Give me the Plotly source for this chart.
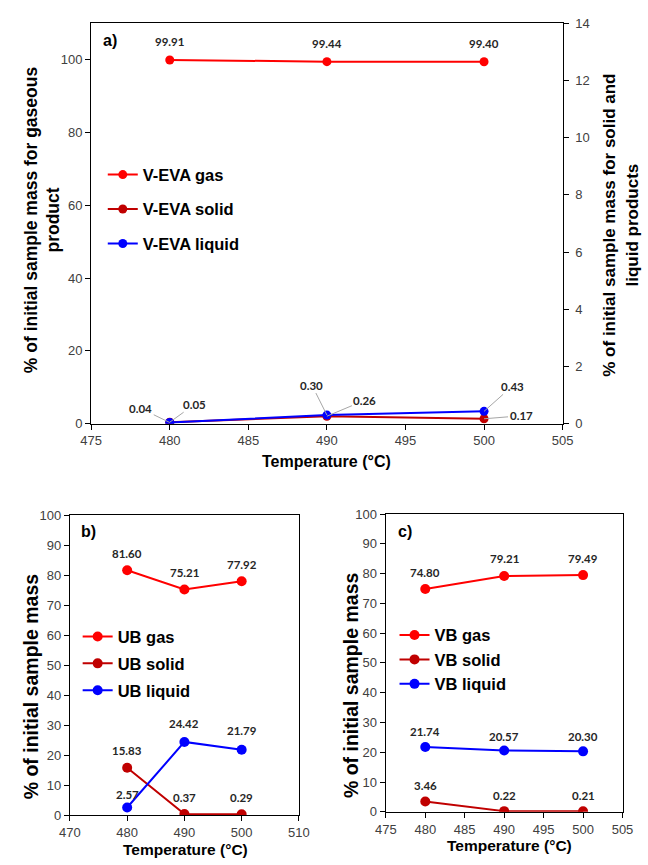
import plotly.graph_objects as go

# ---------------- data ----------------
temps = [480, 490, 500]

veva_gas = [99.91, 99.44, 99.40]
veva_solid = [0.05, 0.26, 0.17]
veva_liquid = [0.04, 0.30, 0.43]

ub_gas = [81.60, 75.21, 77.92]
ub_solid = [15.83, 0.37, 0.29]
ub_liquid = [2.57, 24.42, 21.79]

vb_gas = [74.80, 79.21, 79.49]
vb_solid = [3.46, 0.22, 0.21]
vb_liquid = [21.74, 20.57, 20.30]

# ---------------- style ----------------
RED = "#FF0000"
DARKRED = "#C00000"
BLUE = "#0000FF"
AX_FONT = "Arial, Liberation Sans, sans-serif"
LBL_FONT = "Lato, Carlito, Open Sans, sans-serif"
W, H = 648, 865


def px(xp):
    return xp / W


def py(yp):
    return 1 - yp / H


fig = go.Figure()


def add_series(x, y, name, color, xa, ya, legend, msize):
    fig.add_trace(go.Scatter(
        x=x, y=y, name=name, mode="lines+markers",
        line=dict(color=color, width=2),
        marker=dict(color=color, size=msize),
        xaxis=xa, yaxis=ya, legend=legend, legendgroup=name,
    ))


add_series(temps, veva_gas, "V-EVA gas", RED, "x", "y", "legend", 9)
add_series(temps, veva_solid, "V-EVA solid", DARKRED, "x", "y2", "legend", 9)
add_series(temps, veva_liquid, "V-EVA liquid", BLUE, "x", "y2", "legend", 9)

add_series(temps, ub_gas, "UB gas", RED, "x2", "y3", "legend2", 10)
add_series(temps, ub_solid, "UB solid", DARKRED, "x2", "y3", "legend2", 10)
add_series(temps, ub_liquid, "UB liquid", BLUE, "x2", "y3", "legend2", 10)

add_series(temps, vb_gas, "VB gas", RED, "x3", "y4", "legend3", 10)
add_series(temps, vb_solid, "VB solid", DARKRED, "x3", "y4", "legend3", 10)
add_series(temps, vb_liquid, "VB liquid", BLUE, "x3", "y4", "legend3", 10)

annotations = []


def data_labels(xs, ys, xref, yref, shifts=None):
    for i, (xv, yv) in enumerate(zip(xs, ys)):
        s = 17 if shifts is None else shifts[i]
        annotations.append(dict(
            x=xv, y=yv, xref=xref, yref=yref, text=f"{yv:.2f}",
            showarrow=False, yshift=s,
            font=dict(family=LBL_FONT, size=11.5, color="#262626", weight="bold"),
        ))


def leader_label(xv, yv, xref, yref, ax, ay):
    annotations.append(dict(
        x=xv, y=yv, xref=xref, yref=yref, text=f"{yv:.2f}",
        showarrow=True, ax=ax, ay=ay, arrowhead=0, arrowwidth=1,
        arrowcolor="#A6A6A6", standoff=0,
        font=dict(family=LBL_FONT, size=11.5, color="#262626", weight="bold"),
    ))


# panel a labels
data_labels(temps, veva_gas, "x", "y", [18, 18, 18])
leader_offsets_liquid = [(-29, -14), (-15, -30), (28, -25)]
leader_offsets_solid = [(25, -18), (38, -16), (37, -3)]
for t, v, (ax, ay) in zip(temps, veva_liquid, leader_offsets_liquid):
    leader_label(t, v, "x", "y2", ax, ay)
for t, v, (ax, ay) in zip(temps, veva_solid, leader_offsets_solid):
    leader_label(t, v, "x", "y2", ax, ay)

# panel b labels
data_labels(temps, ub_gas, "x2", "y3")
data_labels(temps, ub_solid, "x2", "y3")
data_labels(temps, ub_liquid, "x2", "y3", [13, 18, 19])

# panel c labels
data_labels(temps, vb_gas, "x3", "y4")
data_labels(temps, vb_solid, "x3", "y4", [16, 16, 16])
data_labels(temps, vb_liquid, "x3", "y4", [16, 14, 15])

# panel tags
for txt, xp, ypx in [("a)", 102, 34), ("b)", 80, 534), ("c)", 408, 534)]:
    annotations.append(dict(
        x=px(xp), y=py(ypx), xref="paper", yref="paper", text=txt,
        showarrow=False, xanchor="center", yanchor="middle",
        font=dict(family=AX_FONT, size=16, color="black", weight="bold"),
    ))


def title(txt, xp, ypx, size, angle=0):
    annotations.append(dict(
        x=px(xp), y=py(ypx), xref="paper", yref="paper", text=txt,
        showarrow=False, xanchor="center", yanchor="middle", textangle=angle,
        font=dict(family=AX_FONT, size=size, color="black", weight="bold"),
    ))


title("Temperature (°C)", 327, 463, 16)
title("Temperature (°C)", 181, 857, 15.5)
title("Temperature (°C)", 516, 853, 15.5)
title("% of initial sample mass for gaseous<br>product", 32, 216, 17.5, -90)
title("% of initial sample mass for solid and<br>liquid products", 631, 222, 17, -90)
title("% of initial sample mass", 21, 691, 19.5, -90)
title("% of initial sample mass", 352, 690, 19.5, -90)

tick_font = dict(family=AX_FONT, size=13, color="#404040")
axis_common = dict(
    showline=True, linecolor="black", linewidth=1.3, ticks="outside",
    ticklen=5, tickcolor="black", tickwidth=1.3, showgrid=False,
    zeroline=False, tickfont=tick_font, mirror=True,
)
axis_nomirror = {k: v for k, v in axis_common.items() if k != "mirror"}

legend_common = dict(
    font=dict(family=AX_FONT, size=16.5, color="black", weight="bold"),
    bgcolor="rgba(0,0,0,0)", xanchor="left", yanchor="top",
    traceorder="grouped", itemclick=False,
)

fig.update_layout(
    width=W, height=H, margin=dict(l=0, r=0, t=0, b=0),
    paper_bgcolor="white", plot_bgcolor="white",
    annotations=annotations,
    xaxis=dict(domain=[px(83), px(571)], range=[475, 505], dtick=5,
               anchor="y", **axis_common),
    yaxis=dict(domain=[py(424), py(16.5)], range=[0, 110], dtick=20,
               anchor="x", **axis_nomirror),
    yaxis2=dict(range=[0, 14], dtick=2, overlaying="y", side="right",
                anchor="x", ticklabelstandoff=4, **axis_nomirror),
    xaxis2=dict(domain=[px(61), px(298)], range=[470, 510], dtick=10,
                anchor="y3", **axis_common),
    yaxis3=dict(domain=[py(822.5), py(517)], range=[0, 100], dtick=10,
                anchor="x2", **axis_common),
    xaxis3=dict(domain=[px(388), px(633)], range=[475, 505], dtick=5,
                anchor="y4", **axis_common),
    yaxis4=dict(domain=[py(819), py(516)], range=[0, 100], dtick=10,
                anchor="x3", **axis_common),
    legend=dict(x=px(95), y=py(153), tracegroupgap=10, **legend_common),
    legend2=dict(x=px(69), y=py(623), tracegroupgap=2.5, **legend_common),
    legend3=dict(x=px(397), y=py(621.5), tracegroupgap=0, **legend_common),
)

fig.write_html(
    "out.html",
    config={"displayModeBar": False},
    post_script="document.body.style.margin='0';document.body.style.padding='0';"
                "document.body.style.overflow='hidden';"
                "document.documentElement.style.overflow='hidden';",
)
